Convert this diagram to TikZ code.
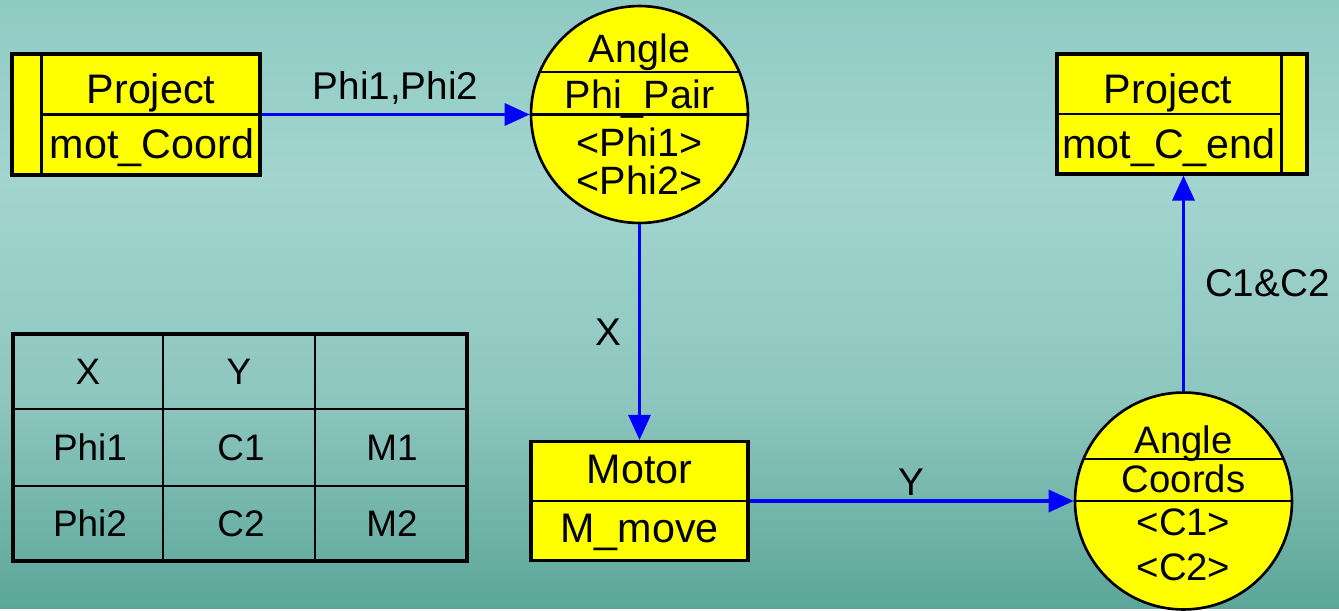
\documentclass[tikz,border=0pt]{standalone}
\usepackage{fontspec}
\setmainfont{Liberation Sans}
\usetikzlibrary{
  arrows.meta,
  calc
}
\definecolor{BgTop}{RGB}{143,202,195}
\definecolor{BgLight}{RGB}{163,213,208}
\definecolor{BgMid}{RGB}{141,198,191}
\definecolor{BgLow}{RGB}{92,166,154}
\definecolor{EntYellow}{RGB}{255,255,0}
\definecolor{FlowBlue}{RGB}{0,0,255}
\tikzset{
  entbox/.style={
    draw=black,
    fill=EntYellow,
    line width=1.8pt,
    inner sep=0pt
  },
  entcirc/.style={entbox,circle,line width=1.5pt,minimum size=4.34cm},
  divline/.style={draw=black,line width=1.4pt},
  boxtxt/.style={font=\fontsize{23.5}{28}\selectfont,inner sep=0pt,anchor=base},
  circtxt/.style={font=\fontsize{22.5}{27}\selectfont,inner sep=0pt,anchor=base},
  flowlbl/.style={font=\fontsize{22}{26}\selectfont,inner sep=0pt},
  celltxt/.style={font=\fontsize{21}{25}\selectfont,inner sep=0pt},
  flow/.style={-{Triangle[length=5mm,width=4.4mm]},line width=1.8pt,draw=FlowBlue}
}

\begin{document}
\begin{tikzpicture}[x=0.02cm,y=-0.02cm]
  % background
  \shade[top color=BgTop,bottom color=BgLight] (0,0) rectangle (1339,181);
  \shade[top color=BgLight,bottom color=BgMid] (0,180) rectangle (1339,401);
  \shade[top color=BgMid,bottom color=BgLow] (0,400) rectangle (1339,608);

  % entities
  \node[entbox,minimum width=4.96cm,minimum height=2.42cm] (prjA) at (136,114.5) {};
  \draw[divline] ([xshift=0.62cm]prjA.north west) -- ([xshift=0.62cm]prjA.south west);
  \draw[divline] ([xshift=0.62cm]prjA.west) -- (prjA.east);
  \node[boxtxt] (prjAname) at (151,103) {Project};
  \node[boxtxt] (prjAval) at (152,158) {mot\_Coord};

  \node[entbox,minimum width=5.0cm,minimum height=2.4cm] (prjB) at (1182,114) {};
  \draw[divline] ([xshift=-0.54cm]prjB.north east) -- ([xshift=-0.54cm]prjB.south east);
  \draw[divline] (prjB.west) -- ([xshift=-0.54cm]prjB.east);
  \node[boxtxt] (prjBname) at (1168,103) {Project};
  \node[boxtxt] (prjBval) at (1169,158) {mot\_C\_end};

  \node[entbox,minimum width=4.34cm,minimum height=2.38cm] (motor) at (639.5,501) {};
  \draw[divline] (motor.west) -- (motor.east);
  \node[boxtxt] (motorname) at (639.5,483) {Motor};
  \node[boxtxt] (motorval) at (639.5,542) {M\_move};

  % relationships
  \node[entcirc] (phiPair) at (639.5,114.5) {};
  \draw[divline] ($(phiPair.center)+(-99.8,-42.5)$) -- ($(phiPair.center)+(99.8,-42.5)$);
  \node[circtxt] (phiPairA) at (639.5,62) {Angle};
  \node[circtxt] (phiPairB) at (639.5,108) {Phi\raisebox{-1.6pt}{\_}Pair};
  \draw[divline] (phiPair.west) -- (phiPair.east);
  \node[circtxt] (phiPairC) at (639.5,156) {<Phi1>};
  \node[circtxt] (phiPairD) at (639.5,194) {<Phi2>};

  \node[entcirc] (coords) at (1183.5,501) {};
  \draw[divline] ($(coords.center)+(-100,-42)$) -- ($(coords.center)+(100,-42)$);
  \draw[divline] (coords.west) -- (coords.east);
  \node[circtxt,font=\fontsize{21.8}{26}\selectfont] (coordsA) at (1183.5,453) {Angle};
  \node[circtxt,font=\fontsize{21.8}{26}\selectfont] (coordsB) at (1183.5,492) {Coords};
  \node[circtxt,font=\fontsize{21.8}{26}\selectfont] (coordsC) at (1183.5,535) {<C1>};
  \node[circtxt,font=\fontsize{21.8}{26}\selectfont] (coordsD) at (1183.5,580) {<C2>};

  % flows
  \draw[flow] (prjA.east) -- (phiPair.west)
    node[flowlbl,midway,anchor=base,yshift=0.3cm] {Phi1,Phi2};
  \draw[flow] (phiPair.south) -- (motor.north)
    node[flowlbl,midway,anchor=east,xshift=-0.34cm] {X};
  \draw[flow] (motor.east) -- (coords.west)
    node[flowlbl,midway,anchor=base,yshift=0.12cm] {Y};
  \draw[flow] (coords.north) -- (coords.north |- prjB.south)
    node[flowlbl,midway,anchor=west,xshift=0.4cm] {C1\&C2};

  % mapping table
  \draw[line width=1.8pt] (13,334) rectangle (467,561);
  \draw[line width=1.2pt] (163,334) -- (163,561);
  \draw[line width=1.2pt] (315,334) -- (315,561);
  \draw[line width=1.2pt] (13,409) -- (467,409);
  \draw[line width=1.2pt] (13,486) -- (467,486);
  \node[celltxt] (tabX) at (88,371.5) {X};
  \node[celltxt] (tabY) at (239,371.5) {Y};
  \node[celltxt] (tabPhiA) at (90,447.5) {Phi1};
  \node[celltxt] (tabCA) at (241,447.5) {C1};
  \node[celltxt] (tabMA) at (392,447.5) {M1};
  \node[celltxt] (tabPhiB) at (90,523.5) {Phi2};
  \node[celltxt] (tabCB) at (241,523.5) {C2};
  \node[celltxt] (tabMB) at (392,523.5) {M2};
\end{tikzpicture}
\end{document}
